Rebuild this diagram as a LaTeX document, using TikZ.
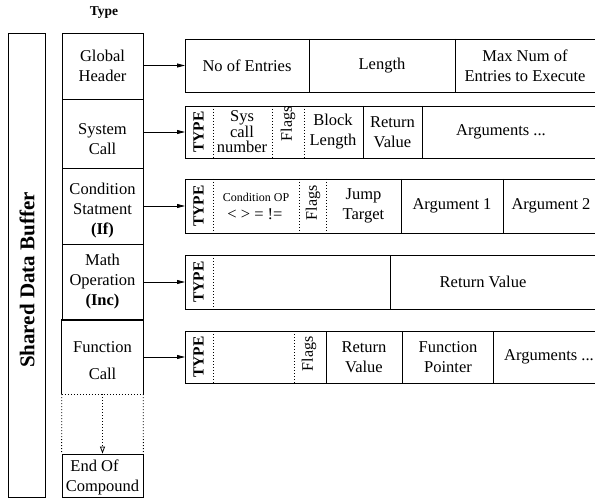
\documentclass[tikz,border=0pt]{standalone}
\usepackage{fontspec}
\setmainfont{Liberation Serif}
\usetikzlibrary{arrows.meta}
\begin{document}
\begin{tikzpicture}[x=1pt,y=-1pt,
  every node/.style={font=\fontsize{16.5}{20}\selectfont, inner sep=0pt, align=center},
  box/.style={draw, line width=0.8pt},
  divider/.style={line width=0.8pt},
  dotdiv/.style={line width=0.8pt, dash pattern=on 0.8pt off 2.2pt},
  arr/.style={line width=0.8pt, -{Triangle[length=8pt,width=4pt]}},
  openarr/.style={line width=0.8pt, dash pattern=on 0.8pt off 2.2pt, -{Triangle[open,length=7pt,width=5pt]}},
  typelbl/.style={rotate=90, font=\fontsize{15.5}{17}\selectfont\bfseries},
  flagslbl/.style={rotate=90, font=\fontsize{16}{18}\selectfont}
]
\useasboundingbox (0,0) rectangle (595,500);
\clip (0,0) rectangle (595,500);

% header
\node[font=\fontsize{13.5}{16}\selectfont\bfseries] (typehdr) at (104,13) {Type};

% shared data buffer
\node[box, minimum width=37, minimum height=464] (sdb) at (26.5,265) {};
\node[font=\fontsize{21}{23}\selectfont\bfseries, rotate=90] (sdblbl) at (27,280) {Shared Data Buffer};

% type column
\node[box, minimum width=81, minimum height=66] (gh) at (102.5,66) {Global\\Header};
\node[box, minimum width=81, minimum height=69] (sys) at (102.5,133.5) {};
\node (systxt) at (102.5,139) {System\\Call};
\node[box, minimum width=81, minimum height=76] (cond) at (102.5,206) {};
\node (condtxt) at (102.5,211) {Condition\\Statment\\\textbf{(If)}};
\node[box, minimum width=81, minimum height=76] (math) at (102.5,282) {Math\\Operation\\\textbf{(Inc)}};
\node[minimum width=81, minimum height=74] (func) at (102.5,357) {};
\node (functxt) at (102.5,361) {Function\\[7pt]Call};
\draw[divider] (func.south west) -- (func.north west) -- (func.north east) -- (func.south east);
\draw[dotdiv] (func.south west) -- (func.south east);
\node[box, minimum width=81, minimum height=43] (eoc) at (102.5,475.5) {};
\node (eoctxt) at (102.5,477) {End Of\hspace*{16pt}\\Compound};
\draw[dotdiv] (func.south west) -- (eoc.north west);
\draw[dotdiv] (func.south east) -- (eoc.north east);
\draw[openarr] (func.south) -- (eoc.north);

% rows
\node[box, minimum width=415, minimum height=53, anchor=west] (r1) at (185,65.5) {};
\node[box, minimum width=415, minimum height=52, anchor=west] (r2) at (185,132) {};
\node[box, minimum width=415, minimum height=54, anchor=west] (r3) at (185,206) {};
\node[box, minimum width=415, minimum height=54, anchor=west] (r4) at (185,282) {};
\node[box, minimum width=415, minimum height=52, anchor=west] (r5) at (185,357) {};

% arrows
\draw[arr] (gh.east |- r1.west) -- (r1.west);
\draw[arr] (sys.east |- r2.west) -- (r2.west);
\draw[arr] (cond.east |- r3.west) -- (r3.west);
\draw[arr] (math.east |- r4.west) -- (r4.west);
\draw[arr] (func.east |- r5.west) -- (r5.west);

% row 1
\draw[divider] (309,39) -- (309,92);
\draw[divider] (455,39) -- (455,92);
\node (r1a) at (247,66) {No of Entries};
\node (r1b) at (382,66) {Length};
\node (r1c) at (525,66) {Max Num of\\Entries to Execute};

% row 2
\draw[dotdiv] (213,106) -- (213,158);
\draw[dotdiv] (272,106) -- (272,158);
\draw[dotdiv] (304,106) -- (304,158);
\draw[divider] (363,106) -- (363,158);
\draw[divider] (422,106) -- (422,158);
\node[typelbl] (r2t) at (198.5,132) {TYPE};
\node[font=\fontsize{16.5}{15.5}\selectfont] (r2a) at (242,132) {Sys\\call\\number};
\node[flagslbl] (r2f) at (288,124) {Flags};
\node (r2b) at (333,132) {Block\\Length};
\node (r2c) at (392.5,132) {Return\\Value};
\node (r2d) at (501,132) {Arguments ...};

% row 3
\draw[dotdiv] (213,179) -- (213,233);
\draw[dotdiv] (299,179) -- (299,233);
\draw[dotdiv] (326,179) -- (326,233);
\draw[divider] (401,179) -- (401,233);
\draw[divider] (503,179) -- (503,233);
\node[typelbl] (r3t) at (198.5,206) {TYPE};
\node[font=\fontsize{12}{14}\selectfont] (r3a) at (256,197) {Condition OP};
\node (r3b) at (255,214) {< > = !=};
\node[flagslbl] (r3f) at (313,203) {Flags};
\node (r3c) at (363.5,206) {Jump\\Target};
\node (r3d) at (452,206) {Argument 1};
\node (r3e) at (551,206) {Argument 2};

% row 4
\draw[dotdiv] (213,255) -- (213,309);
\draw[divider] (390,255) -- (390,309);
\node[typelbl] (r4t) at (198.5,282) {TYPE};
\node (r4a) at (483,282) {Return Value};

% row 5
\draw[dotdiv] (213,331) -- (213,383);
\draw[dotdiv] (294,331) -- (294,383);
\draw[divider] (326,331) -- (326,383);
\draw[divider] (402,331) -- (402,383);
\draw[divider] (493,331) -- (493,383);
\node[typelbl] (r5t) at (198.5,357) {TYPE};
\node[flagslbl] (r5f) at (309,354) {Flags};
\node (r5a) at (364,357) {Return\\Value};
\node (r5b) at (448,357) {Function\\Pointer};
\node (r5c) at (549,357) {Arguments ...};
\end{tikzpicture}
\end{document}
